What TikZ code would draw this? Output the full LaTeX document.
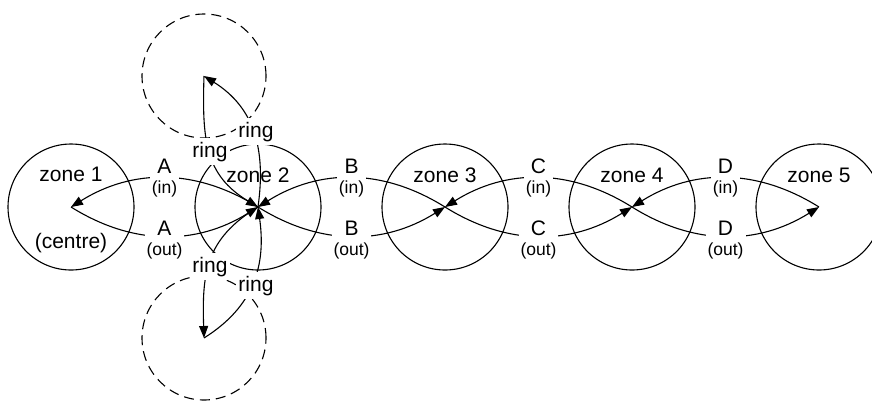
\documentclass[tikz,border=0pt]{standalone}
\usepackage{fontspec}
\setmainfont{Liberation Sans}
\usetikzlibrary{arrows.meta}
\newcommand\smtxt[1]{{\fontsize{17.5}{20.5}\selectfont #1}}
\begin{document}
\begin{tikzpicture}[x=1pt,y=-1pt,
  zone/.style={circle,draw,line width=1.1pt,minimum size=126pt,inner sep=0pt},
  ghost/.style={circle,draw,line width=1.1pt,dash pattern=on 10pt off 6pt,minimum size=124pt,inner sep=0pt},
  conn/.style={line width=1.1pt,-{Triangle[length=12pt,width=9pt]}},
  lbl/.style={fill=white,inner xsep=2pt,inner ysep=1pt,align=center,font=\fontsize{21}{20.5}\selectfont},
  ringlbl/.style={fill=white,inner xsep=2pt,inner ysep=4pt,font=\fontsize{21}{21}\selectfont,anchor=base},
  ztext/.style={anchor=base,inner sep=0pt,font=\fontsize{21}{21}\selectfont},
]
\useasboundingbox (0,0) rectangle (872,400);
% zones
\node[zone] (z1) at (71,207) {};
\node[zone] (z2) at (258,207) {};
\node[zone] (z3) at (445,207) {};
\node[zone] (z4) at (632,207) {};
\node[zone] (z5) at (819,207) {};
\node[ghost] (t) at (204,76) {};
\node[ghost] (b) at (204,338) {};
% zone texts
\node[ztext] (tz1) at (71,181) {zone 1};
\node[ztext] (tc1) at (71,248) {(centre)};
\node[ztext] (tz2) at (258,182) {zone 2};
\node[ztext] (tz3) at (445,182) {zone 3};
\node[ztext] (tz4) at (632,182) {zone 4};
\node[ztext] (tz5) at (819,182) {zone 5};
% ring connectors
\draw[conn] (t.center) .. controls (202,140) and (205,175) .. (z2.center);
\draw[conn] (z2.center) .. controls (266,150) and (255,108) .. (t.center);
\draw[conn] (z2.center) .. controls (205,239) and (202,274) .. (b.center);
\draw[conn] (b.center) .. controls (255,306) and (266,264) .. (z2.center);
% zone connectors
\draw[conn] (z2.center) to[bend right=32] node[lbl] (la1) {A\\\smtxt{(in)}} (z1.center);
\draw[conn] (z1.center) to[bend right=32] node[lbl,yshift=-4pt] (la2) {A\\\smtxt{(out)}} (z2.center);
\draw[conn] (z3.center) to[bend right=32] node[lbl] (lb1) {B\\\smtxt{(in)}} (z2.center);
\draw[conn] (z2.center) to[bend right=32] node[lbl,yshift=-4pt] (lb2) {B\\\smtxt{(out)}} (z3.center);
\draw[conn] (z4.center) to[bend right=32] node[lbl] (lc1) {C\\\smtxt{(in)}} (z3.center);
\draw[conn] (z3.center) to[bend right=32] node[lbl,yshift=-4pt] (lc2) {C\\\smtxt{(out)}} (z4.center);
\draw[conn] (z5.center) to[bend right=32] node[lbl] (ld1) {D\\\smtxt{(in)}} (z4.center);
\draw[conn] (z4.center) to[bend right=32] node[lbl,yshift=-4pt] (ld2) {D\\\smtxt{(out)}} (z5.center);
% ring labels
\node[ringlbl] (r1) at (210,157) {ring};
\node[ringlbl] (r2) at (256,137) {ring};
\node[ringlbl] (r3) at (210,272) {ring};
\node[ringlbl] (r4) at (256,291) {ring};
\end{tikzpicture}
\end{document}
